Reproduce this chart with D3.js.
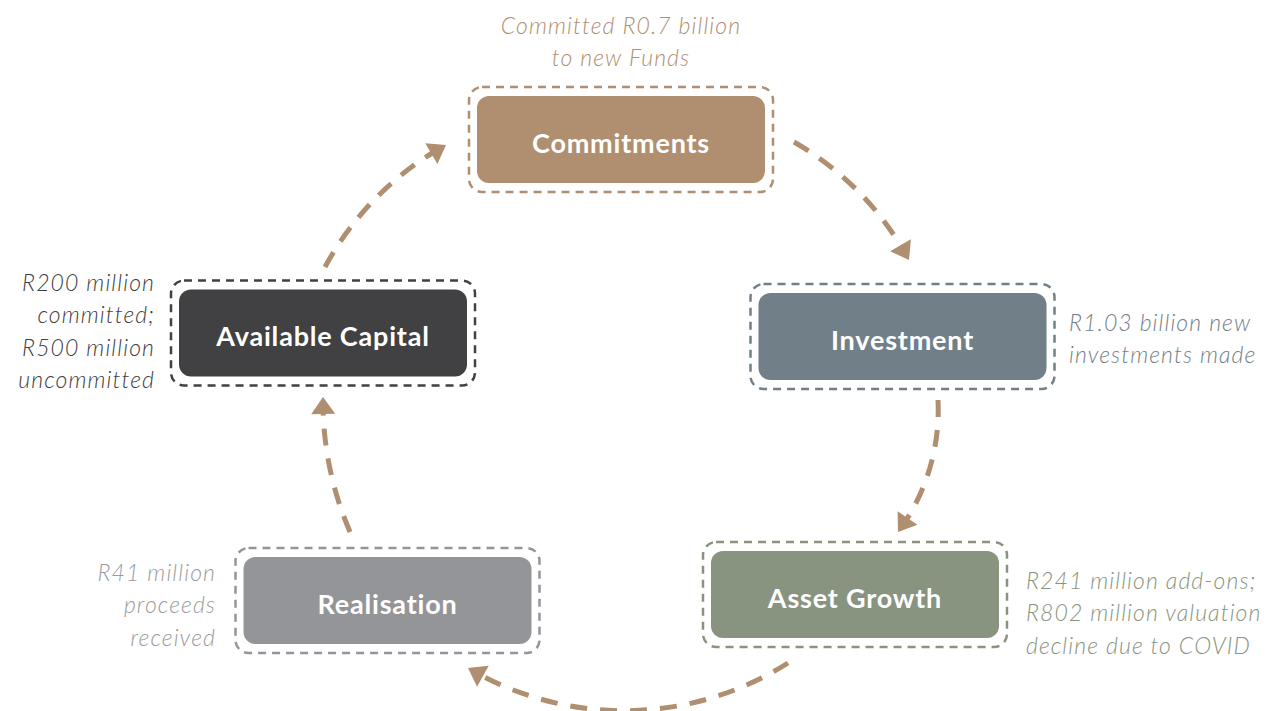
<!DOCTYPE html>
<html><head><meta charset="utf-8">
<script src="https://cdn.jsdelivr.net/npm/d3@7/dist/d3.min.js"></script>
<style>
html,body{margin:0;padding:0;background:#fff;}
svg{display:block;}
</style></head>
<body>
<script>
// ---- data ----
const stages = ["Commitments", "Investment", "Asset Growth", "Realisation", "Available Capital"];
const stageColors = ["#B08E70", "#717F88", "#889480", "#939598", "#414042"];
const noteColors = ["#B08E70", "#717F88", "#889480", "#9A9B9E", "#414042"];
const notes = [
  ["Committed R0.7 billion", "to new Funds"],
  ["R1.03 billion new", "investments made"],
  ["R241 million add-ons;", "R802 million valuation", "decline due to COVID"],
  ["R41 million", "proceeds", "received"],
  ["R200 million", "committed;", "R500 million", "uncommitted"]
];

// ---- layout ----
const W = 1269, H = 711;
const boxW = 288, boxH = 87;
const boxCenters = [[621, 139.5], [902.5, 336.5], [855, 594.5], [387.5, 600.5], [323, 333]];
// note anchor: x, y of first line centre, text-anchor
const noteAnchors = [[621, 26, "middle"], [1069, 323, "start"], [1026, 581, "start"], [216, 573, "end"], [155, 283, "end"]];
// flow arrows: start point, arrow tip, radius of arc
const flows = [
  {s: [794, 142], t: [909, 260], r: 300},
  {s: [938, 400], t: [898, 532], r: 205},
  {s: [788, 663], t: [468, 668], r: 306},
  {s: [350, 532], t: [323, 397], r: 330},
  {s: [325, 267], t: [446, 145], r: 303}
];

const svg = d3.select("body").append("svg").attr("width", W).attr("height", H);
const arrowColor = "#B08E70";
const arrowLen = 17, arrowHalf = 12;

flows.forEach(f => {
  const [x0, y0] = f.s, [x1, y1] = f.t, r = f.r;
  const dx = x1 - x0, dy = y1 - y0, d = Math.hypot(dx, dy);
  const ux = dx / d, uy = dy / d, h = d / 2;
  const k = Math.sqrt(Math.max(r * r - h * h, 0));
  const cx = (x0 + x1) / 2 - uy * k, cy = (y0 + y1) / 2 + ux * k;
  let a0 = Math.atan2(y0 - cy, x0 - cx);
  let a1 = Math.atan2(y1 - cy, x1 - cx);
  while (a1 < a0) a1 += 2 * Math.PI;
  const aBase = a1 - arrowLen / r;
  const p = d3.path();
  p.arc(cx, cy, r, a0, aBase + 0.01, false);
  svg.append("path").attr("d", p.toString())
    .attr("fill", "none").attr("stroke", arrowColor)
    .attr("stroke-width", 5).attr("stroke-dasharray", "17 13");
  // arrow head: tip, direction = tangent
  const bx = cx + r * Math.cos(aBase), by = cy + r * Math.sin(aBase);
  const tx = x1 - bx, ty = y1 - by, tl = Math.hypot(tx, ty);
  const nx = -ty / tl, ny = tx / tl;
  const pts = [[x1, y1], [bx + nx * arrowHalf, by + ny * arrowHalf], [bx - nx * arrowHalf, by - ny * arrowHalf]];
  svg.append("path").attr("d", d3.line()(pts) + "Z").attr("fill", arrowColor);
});

// boxes
const g = svg.selectAll("g.stage").data(stages).enter().append("g")
  .attr("transform", (d, i) => `translate(${boxCenters[i][0]},${boxCenters[i][1]})`);

g.append("rect")
  .attr("x", -boxW / 2 - 8).attr("y", -boxH / 2 - 9)
  .attr("width", boxW + 16).attr("height", boxH + 18)
  .attr("rx", 13).attr("fill", "none")
  .attr("stroke", (d, i) => stageColors[i]).attr("stroke-width", 2.5)
  .attr("stroke-dasharray", "8 6");

g.append("rect")
  .attr("x", -boxW / 2).attr("y", -boxH / 2)
  .attr("width", boxW).attr("height", boxH)
  .attr("rx", 12).attr("fill", (d, i) => stageColors[i]);

g.append("text")
  .attr("text-anchor", "middle").attr("y", 13)
  .attr("fill", "#fff").attr("font-family", "Lato, 'Open Sans', sans-serif")
  .attr("font-weight", 700).attr("font-size", 27).attr("letter-spacing", 0.8)
  .text(d => d);

// notes
const lineH = 32.3;
notes.forEach((lines, i) => {
  const [x, y0, anchor] = noteAnchors[i];
  const t = svg.append("text")
    .attr("text-anchor", anchor)
    .attr("font-family", "Lato, 'Open Sans', sans-serif")
    .attr("font-style", "italic").attr("font-weight", 300)
    .attr("font-size", 23).attr("letter-spacing", 1.1).attr("fill", noteColors[i]);
  lines.forEach((s, k) => {
    t.append("tspan").attr("x", x).attr("y", y0 + k * lineH).attr("dy", "0.35em").text(s);
  });
});
</script>
</body></html>
